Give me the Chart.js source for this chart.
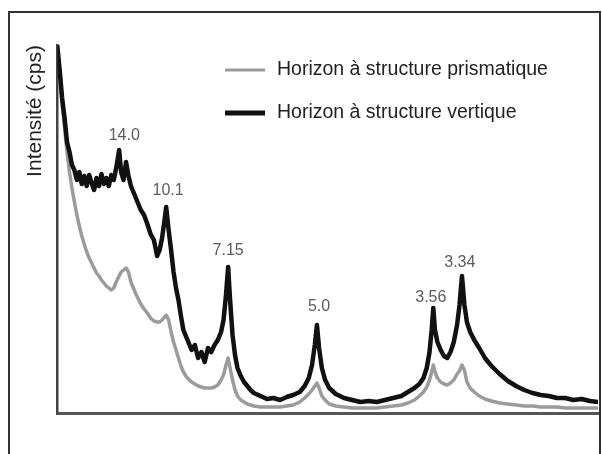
<!DOCTYPE html>
<html lang="fr">
<head>
<meta charset="utf-8">
<title>Diffractogrammes des deux horizons</title>
<script src="https://cdn.jsdelivr.net/npm/chart.js@4.4.1/dist/chart.umd.min.js"></script>
<style>
  html, body { margin: 0; padding: 0; background: #fff; }
  #wrap { position: relative; width: 602px; height: 454px; overflow: hidden; }
  #frame {
    position: absolute; left: 8px; top: 11px; right: 1px; height: 470px;
    border: 2px solid #333; border-bottom: none; box-sizing: border-box;
  }
  #chart { position: absolute; left: 0; top: 0; }
</style>
</head>
<body>
<div id="wrap">
  <div id="frame"></div>
  <canvas id="chart" width="602" height="454"></canvas>
</div>
<script>
'use strict';

// 2-theta positions (degrees, Cu K-alpha) read along the horizontal axis
const twoTheta = [
  2.00, 2.15, 2.30, 2.45, 2.60, 2.75, 2.90, 3.05, 3.20, 3.35,
  3.50, 3.65, 3.80, 3.95, 4.10, 4.25, 4.40, 4.55, 4.70, 4.85,
  5.00, 5.15, 5.30, 5.45, 5.60, 5.78, 5.90, 6.05, 6.20, 6.35,
  6.50, 6.65, 6.80, 6.95, 7.10, 7.30, 7.50, 7.70, 7.90, 8.10,
  8.25, 8.40, 8.55, 8.65, 8.80, 8.95, 9.10, 9.25, 9.40, 9.55,
  9.70, 9.85, 10.00, 10.20, 10.40, 10.60, 10.80, 11.00, 11.20, 11.40,
  11.60, 11.80, 12.00, 12.15, 12.30, 12.43, 12.55, 12.70, 12.85, 13.00,
  13.20, 13.40, 13.60, 13.80, 14.00, 14.40, 14.80, 15.20, 15.60, 16.00,
  16.40, 16.80, 17.10, 17.35, 17.55, 17.72, 17.85, 17.98, 18.15, 18.35,
  18.60, 19.00, 19.50, 20.00, 20.50, 21.00, 21.50, 22.00, 22.50, 23.00,
  23.40, 23.80, 24.10, 24.35, 24.55, 24.72, 24.85, 24.95, 25.05, 25.20,
  25.40, 25.60, 25.80, 26.00, 26.20, 26.40, 26.55, 26.70, 26.85, 27.00,
  27.20, 27.45, 27.75, 28.10, 28.50, 29.00, 29.50, 30.00, 30.50, 31.00,
  31.50, 32.00, 32.50, 33.00, 33.50, 34.00, 34.50, 35.00,
];

// Horizon à structure vertique (black trace), intensity in cps
const vertique = [
  1840, 1715, 1575, 1475, 1355, 1305, 1240, 1215, 1165, 1205,
  1145, 1185, 1135, 1190, 1150, 1115, 1175, 1135, 1195, 1145,
  1175, 1135, 1190, 1165, 1225, 1315, 1205, 1165, 1255, 1185,
  1135, 1105, 1075, 1045, 1015, 990, 945, 895, 865, 785,
  815, 875, 965, 1030, 915, 815, 705, 625, 565, 485,
  415, 385, 355, 315, 340, 275, 305, 255, 325, 305,
  340, 365, 405, 465, 590, 730, 565, 390, 290, 225,
  185, 155, 135, 115, 100, 85, 70, 75, 65, 80,
  90, 105, 135, 175, 240, 340, 440, 325, 225, 165,
  125, 95, 75, 65, 55, 60, 55, 65, 75, 85,
  105, 125, 145, 175, 225, 305, 415, 525, 415, 355,
  315, 285, 275, 305, 355, 440, 540, 685, 540, 455,
  405, 365, 325, 275, 235, 195, 160, 135, 115, 100,
  90, 85, 75, 75, 65, 70, 60, 55,
];

// Horizon à structure prismatique (grey trace), intensity in cps
const prismatique = [
  1840, 1705, 1540, 1425, 1305, 1205, 1125, 1055, 990, 935,
  885, 845, 805, 775, 750, 725, 700, 685, 665, 650,
  635, 625, 615, 625, 655, 685, 705, 715, 725, 705,
  655, 625, 595, 570, 545, 520, 500, 475, 460, 455,
  455, 465, 480, 490, 465, 405, 355, 315, 275, 235,
  205, 185, 170, 155, 145, 135, 130, 125, 125, 125,
  130, 140, 165, 190, 240, 275, 225, 165, 115, 85,
  65, 55, 45, 40, 35, 30, 30, 30, 30, 35,
  40, 55, 75, 95, 115, 135, 150, 125, 85, 65,
  45, 35, 30, 25, 25, 25, 25, 30, 35, 40,
  50, 65, 85, 105, 130, 165, 205, 240, 205, 175,
  155, 145, 140, 150, 165, 195, 210, 240, 215, 155,
  125, 105, 85, 70, 60, 50, 45, 40, 35, 35,
  30, 30, 30, 25, 25, 25, 25, 25,
];

const seriesLabels = ['Horizon à structure prismatique', 'Horizon à structure vertique'];

// d-spacings (Å) written above the peaks, with the spot where each label sits
const peakLabels = ['14.0', '10.1', '7.15', '5.0', '3.56', '3.34'];
const peakLabelX = [6.09, 8.77, 12.43, 17.98, 24.80, 26.57];
const peakLabelY = [1385, 1110, 810, 530, 575, 750];

const FONT = '"Liberation Sans", Arial, sans-serif';

function toPoints(ys) {
  return twoTheta.map((x, i) => ({ x, y: ys[i] }));
}

// Legend sits inside the plot, upper right of the first peaks
const inlineLegend = {
  id: 'inlineLegend',
  afterDatasetsDraw(chart) {
    const ctx = chart.ctx;
    const rows = [70, 113];
    ctx.save();
    ctx.font = `19.5px ${FONT}`;
    ctx.textBaseline = 'middle';
    ctx.textAlign = 'left';
    chart.data.datasets.forEach((ds, i) => {
      const y = rows[i];
      ctx.strokeStyle = ds.borderColor;
      ctx.lineWidth = ds.legendWidth;
      ctx.beginPath();
      ctx.moveTo(225, y);
      ctx.lineTo(265, y);
      ctx.stroke();
      ctx.fillStyle = '#222';
      ctx.fillText(ds.label, 277, y);
    });
    ctx.restore();
  },
};

const peakNotes = {
  id: 'peakNotes',
  afterDatasetsDraw(chart) {
    const { ctx, scales: { x, y } } = chart;
    ctx.save();
    ctx.font = `16px ${FONT}`;
    ctx.fillStyle = '#5c5c5c';
    ctx.textAlign = 'center';
    ctx.textBaseline = 'middle';
    peakLabels.forEach((t, i) => {
      ctx.fillText(t, x.getPixelForValue(peakLabelX[i]), y.getPixelForValue(peakLabelY[i]));
    });
    ctx.restore();
  },
};

new Chart(document.getElementById('chart'), {
  type: 'line',
  data: {
    datasets: [
      {
        label: seriesLabels[0],
        data: toPoints(prismatique),
        borderColor: '#9b9b9b',
        borderWidth: 3.5,
        legendWidth: 3,
        order: 1,
      },
      {
        label: seriesLabels[1],
        data: toPoints(vertique),
        borderColor: '#111',
        borderWidth: 4.5,
        legendWidth: 5,
        order: 0,
      },
    ],
  },
  options: {
    responsive: false,
    animation: false,
    devicePixelRatio: 1,
    layout: { padding: { left: 20, top: 45, right: 4, bottom: 41 } },
    elements: {
      point: { radius: 0 },
      line: { tension: 0, borderJoinStyle: 'round', borderCapStyle: 'round' },
    },
    plugins: {
      legend: { display: false },
      tooltip: { enabled: false },
    },
    scales: {
      x: {
        type: 'linear',
        min: 2,
        max: 35,
        ticks: { display: false },
        grid: { drawOnChartArea: false, drawTicks: false },
        border: { display: true, color: '#555', width: 3 },
      },
      y: {
        min: 0,
        max: 1840,
        ticks: { display: false },
        grid: { drawOnChartArea: false, drawTicks: false },
        border: { display: true, color: '#444', width: 2.5 },
        title: {
          display: true,
          text: 'Intensité (cps)',
          align: 'end',
          color: '#222',
          font: { family: FONT, size: 21 },
          padding: { top: 3, bottom: 9 },
        },
      },
    },
  },
  plugins: [inlineLegend, peakNotes],
});
</script>
</body>
</html>
